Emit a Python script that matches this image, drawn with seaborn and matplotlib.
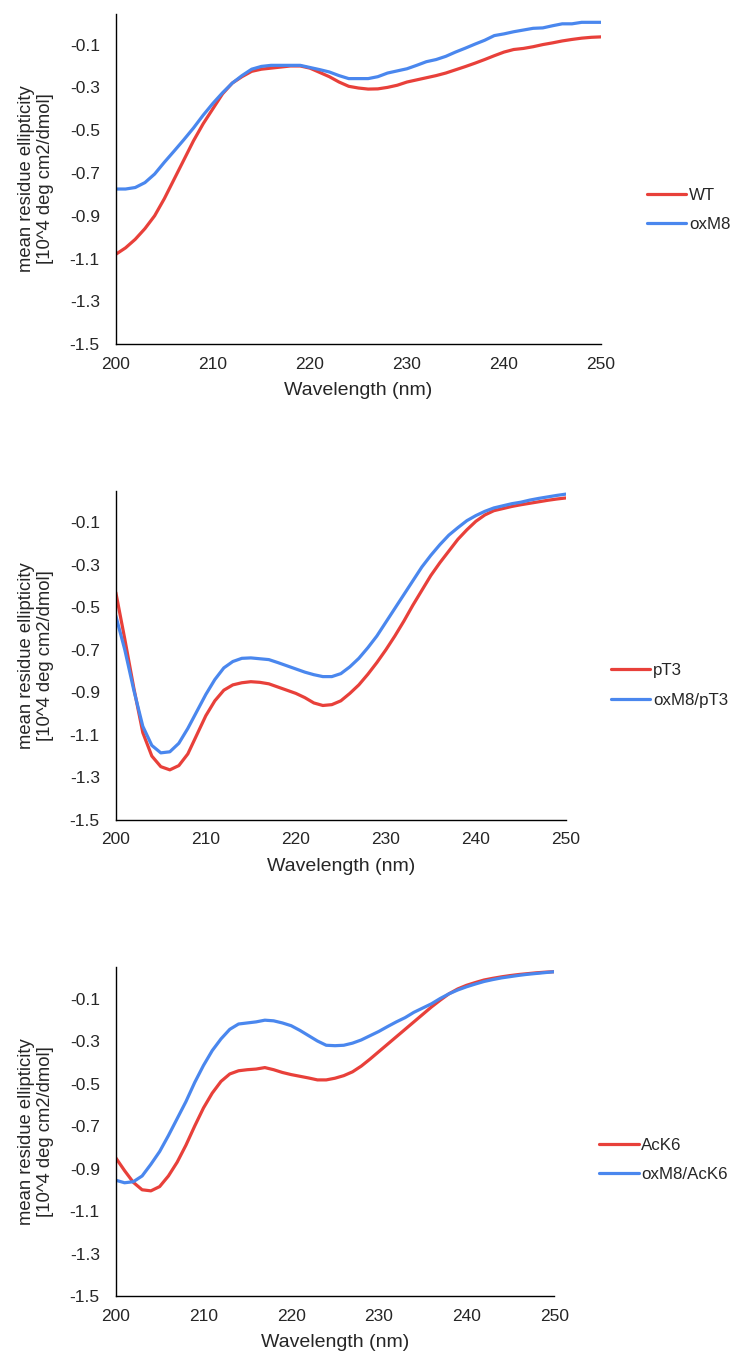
import numpy as np
import pandas as pd
import matplotlib
matplotlib.use('Agg')
import matplotlib.pyplot as plt
import seaborn as sns

wavelength = list(range(200, 251))

wt = [-1.08, -1.05, -1.01, -0.96, -0.90, -0.82, -0.73, -0.64, -0.55, -0.47,
      -0.40, -0.33, -0.28, -0.25, -0.225, -0.215, -0.21, -0.205, -0.20, -0.20,
      -0.21, -0.23, -0.25, -0.275, -0.295, -0.303, -0.308, -0.307, -0.30, -0.29,
      -0.275, -0.265, -0.255, -0.245, -0.233, -0.218, -0.203, -0.187, -0.17, -0.152,
      -0.135, -0.123, -0.118, -0.11, -0.10, -0.092, -0.083, -0.076, -0.07, -0.066,
      -0.064]
oxm8 = [-0.775, -0.775, -0.768, -0.745, -0.705, -0.650, -0.598, -0.545, -0.49, -0.43,
        -0.375, -0.325, -0.28, -0.245, -0.215, -0.202, -0.197, -0.197, -0.197, -0.197,
        -0.207, -0.217, -0.228, -0.245, -0.259, -0.259, -0.259, -0.25, -0.233, -0.223,
        -0.213, -0.197, -0.18, -0.17, -0.155, -0.135, -0.117, -0.098, -0.08, -0.058,
        -0.05, -0.04, -0.032, -0.024, -0.022, -0.012, -0.003, -0.003, 0.004, 0.004,
        0.004]

pt3 = [-0.43, -0.65, -0.88, -1.09, -1.20, -1.25, -1.265, -1.245, -1.19, -1.10,
       -1.01, -0.94, -0.89, -0.865, -0.855, -0.85, -0.853, -0.86, -0.875, -0.89,
       -0.905, -0.925, -0.95, -0.962, -0.958, -0.94, -0.905, -0.865, -0.815, -0.76,
       -0.70, -0.635, -0.565, -0.49, -0.42, -0.35, -0.29, -0.235, -0.18, -0.135,
       -0.095, -0.065, -0.045, -0.035, -0.025, -0.017, -0.01, -0.003, 0.004, 0.01,
       0.015]
oxm8_pt3 = [-0.54, -0.70, -0.89, -1.06, -1.15, -1.185, -1.18, -1.14, -1.07, -0.99,
            -0.91, -0.84, -0.785, -0.755, -0.74, -0.738, -0.742, -0.746, -0.76, -0.775,
            -0.79, -0.805, -0.817, -0.826, -0.826, -0.812, -0.78, -0.74, -0.69, -0.635,
            -0.57, -0.505, -0.44, -0.375, -0.31, -0.255, -0.205, -0.16, -0.125, -0.092,
            -0.068, -0.048, -0.032, -0.022, -0.012, -0.005, 0.005, 0.013, 0.02, 0.027,
            0.033]

ack6 = [-0.85, -0.91, -0.965, -1.0, -1.005, -0.985, -0.935, -0.87, -0.79, -0.70,
        -0.615, -0.545, -0.49, -0.455, -0.44, -0.435, -0.432, -0.425, -0.435, -0.448,
        -0.458, -0.466, -0.474, -0.483, -0.483, -0.475, -0.463, -0.445, -0.418, -0.385,
        -0.35, -0.315, -0.28, -0.245, -0.21, -0.175, -0.14, -0.108, -0.078, -0.055,
        -0.038, -0.025, -0.013, -0.005, 0.002, 0.008, 0.013, 0.017, 0.021, 0.024,
        0.026]
oxm8_ack6 = [-0.955, -0.967, -0.962, -0.935, -0.88, -0.82, -0.745, -0.665, -0.585, -0.495,
             -0.415, -0.345, -0.29, -0.245, -0.22, -0.215, -0.21, -0.202, -0.205, -0.215,
             -0.228, -0.25, -0.275, -0.30, -0.32, -0.322, -0.32, -0.31, -0.295, -0.275,
             -0.255, -0.232, -0.21, -0.19, -0.165, -0.145, -0.125, -0.10, -0.078, -0.06,
             -0.045, -0.032, -0.02, -0.011, -0.003, 0.003, 0.009, 0.014, 0.018, 0.022,
             0.026]

y_ticks = [-1.5, -1.3, -1.1, -0.9, -0.7, -0.5, -0.3, -0.1]
x_ticks = [200, 210, 220, 230, 240, 250]

red = '#E8403A'
blue = '#4A87EE'

sns.set_style('white')
plt.rcParams['font.family'] = ['Liberation Sans', 'DejaVu Sans']

fig = plt.figure(figsize=(7.33, 13.55), dpi=100)

# (left, bottom, width, height) in figure fraction, legend anchor, ylim top
panels = [
    (('WT', wt), ('oxM8', oxm8), [0.158, 0.746, 0.662, 0.244], (0.882, 0.845), 0.045),
    (('pT3', pt3), ('oxM8/pT3', oxm8_pt3), [0.158, 0.395, 0.614, 0.243], (0.833, 0.494), 0.05),
    (('AcK6', ack6), ('oxM8/AcK6', oxm8_ack6), [0.158, 0.0435, 0.598, 0.2425], (0.817, 0.144), 0.046),
]

for (n1, y1), (n2, y2), pos, leg_xy, ytop in panels:
    ax = fig.add_axes(pos)
    df = pd.DataFrame({
        'Wavelength': wavelength * 2,
        'value': y1 + y2,
        'sample': [n1] * len(y1) + [n2] * len(y2),
    })
    sns.lineplot(data=df, x='Wavelength', y='value', hue='sample',
                 palette=[red, blue], linewidth=2.3, ax=ax)
    ax.set_xlim(200, 250)
    ax.set_ylim(-1.5, ytop)
    ax.set_xticks(x_ticks)
    ax.set_yticks(y_ticks)
    ax.set_yticklabels([f'{t:.1f}' for t in y_ticks])
    sns.despine(ax=ax)
    for s in ['left', 'bottom']:
        ax.spines[s].set_color('black')
        ax.spines[s].set_linewidth(1.0)
    ax.tick_params(axis='x', direction='in', length=4, width=1, labelsize=12.5, pad=9, color='black')
    ax.tick_params(axis='y', direction='out', length=4.5, width=1, labelsize=12.5, pad=7, color='black')
    ax.set_xlabel('Wavelength (nm)', fontsize=14, labelpad=7.5)
    ax.set_ylabel('mean residue ellipticity\n[10^4 deg cm2/dmol]', fontsize=13.3, linespacing=1.15)
    ax.yaxis.set_label_coords(-62 / (pos[2] * 733), 0.5)
    ax.legend(loc='center left', bbox_to_anchor=leg_xy, bbox_transform=fig.transFigure,
              frameon=False, fontsize=12.2, handlelength=2.35, handletextpad=0.15,
              borderpad=0, borderaxespad=0, labelspacing=0.85)

fig.savefig('out.png', dpi=100)
